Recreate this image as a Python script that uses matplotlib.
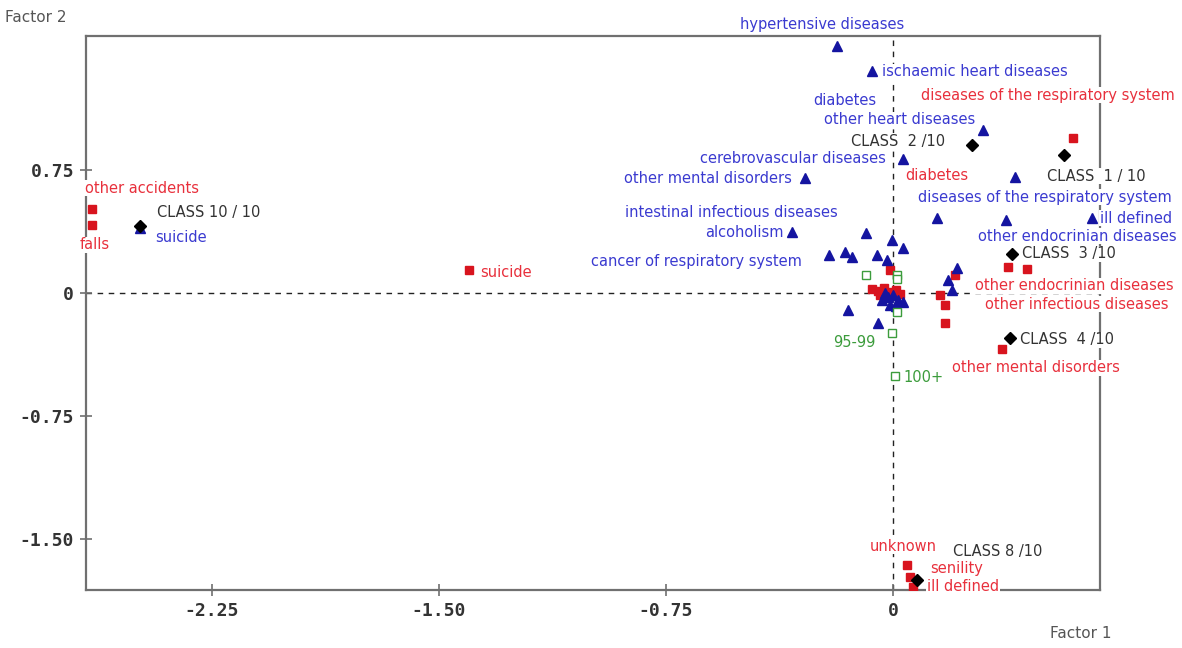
import matplotlib
matplotlib.use("Agg")
import matplotlib.pyplot as plt

# factor-plane coordinates of the categories (factor 1, factor 2)
class_names = ["CLASS 10 / 10", "CLASS  2 /10", "CLASS  1 / 10",
               "CLASS  3 /10", "CLASS  4 /10", "CLASS 8 /10"]
class_x = [-2.488, 0.261, 0.565, 0.393, 0.387, 0.079]
class_y = [0.409, 0.902, 0.841, 0.238, -0.274, -1.750]

active_names = ["other accidents", "falls", "suicide",
                "diseases of the respiratory system", "diabetes",
                "other endocrinian diseases", "other infectious diseases",
                "other mental disorders", "unknown", "senility", "ill defined",
                "", "", "", "", "", "", "", "", "", "", ""]
active_x = [-2.646, -2.646, -1.401, 0.595, 0.205, 0.380, 0.443, 0.360,
            0.046, 0.056, 0.066, 0.155, 0.172, 0.172, -0.010, -0.069,
            -0.050, -0.030, -0.010, 0.010, 0.023, -0.043]
active_y = [0.512, 0.415, 0.140, 0.945, 0.110, 0.159, 0.146, -0.341,
            -1.659, -1.732, -1.793, -0.012, -0.073, -0.183, 0.140, 0.024,
            0.012, 0.030, 0.006, 0.018, -0.006, -0.012]

cause_names = ["hypertensive diseases", "ischaemic heart diseases", "diabetes",
               "other heart diseases", "cerebrovascular diseases",
               "other mental disorders", "diseases of the respiratory system",
               "ill defined", "other endocrinian diseases",
               "intestinal infectious diseases", "alcoholism",
               "cancer of respiratory system", "suicide",
               "", "", "", "", "", "", "", "", "", "", "",
               "", "", "", "", "", "", "", ""]
cause_x = [-0.185, -0.069, 0.033, 0.297, 0.033, -0.291, 0.403, 0.657, 0.373,
           -0.089, -0.334, -0.211, -2.488,
           -0.003, -0.159, -0.135, -0.053, -0.020, 0.211, 0.182, 0.195,
           -0.149, -0.050, 0.145,
           -0.036, -0.017, 0.000, 0.017, 0.033, -0.010, -0.026, 0.010]
cause_y = [1.506, 1.354, 0.274, 0.994, 0.817, 0.701, 0.707, 0.457, 0.445,
           0.366, 0.372, 0.232, 0.397,
           0.323, 0.250, 0.220, 0.232, 0.201, 0.152, 0.079, 0.018,
           -0.104, -0.183, 0.457,
           -0.043, -0.024, -0.012, -0.043, -0.055, -0.073, 0.000, -0.079]

age_names = ["", "", "", "", "95-99", "100+"]
age_x = [-0.089, 0.013, 0.013, 0.013, -0.003, 0.007]
age_y = [0.110, 0.110, 0.085, -0.116, -0.244, -0.506]

x_ticks = [-2.25, -1.50, -0.75, 0]
x_tick_labels = ["-2.25", "-1.50", "-0.75", "0"]
y_ticks = [0.75, 0, -0.75, -1.50]
y_tick_labels = ["0.75", "0", "-0.75", "-1.50"]

# label placement: (dx, dy) in pixels from the marker, horizontal alignment
class_layout = {
    "CLASS 10 / 10": (17, 13, "left"), "CLASS  2 /10": (-27, 4, "right"),
    "CLASS  1 / 10": (-17, -21, "left"), "CLASS  3 /10": (10, 0, "left"),
    "CLASS  4 /10": (10, -2, "left"), "CLASS 8 /10": (36, 29, "left"),
}
active_layout = {
    "other accidents": (-7, 21, "left"), "falls": (-12, -20, "left"),
    "suicide": (11, -2, "left"),
    "diseases of the respiratory system": (102, 43, "right"),
    "diabetes": (-50, 99, "left"),
    "other endocrinian diseases": (-33, -19, "left"),
    "other infectious diseases": (-42, -35, "left"),
    "other mental disorders": (-50, -19, "left"),
    "unknown": (-37, 19, "left"), "senility": (20, 9, "left"),
    "ill defined": (14, 1, "left"),
}
cause_layout = {
    "hypertensive diseases": (-97, 22, "left"),
    "ischaemic heart diseases": (10, -1, "left"),
    "diabetes": (-27, 148, "right"),
    "other heart diseases": (-8, 10, "right"),
    "cerebrovascular diseases": (-17, 1, "right"),
    "other mental disorders": (-13, 0, "right"),
    "diseases of the respiratory system": (-97, -20, "left"),
    "ill defined": (8, 0, "left"),
    "other endocrinian diseases": (-28, -16, "left"),
    "intestinal infectious diseases": (-28, 20, "right"),
    "alcoholism": (-8, 0, "right"),
    "cancer of respiratory system": (-27, -7, "right"),
    "suicide": (15, -10, "left"),
}
age_layout = {"95-99": (-17, -9, "right"), "100+": (8, -2, "left")}

RED = "#d8141e"
RED_TXT = "#e8303c"
BLUE = "#1414a0"
BLUE_TXT = "#3a3ad0"
GREEN = "#3c9c3c"
GREY = "#707070"

fig = plt.figure(figsize=(11.82, 6.48), dpi=100)
ax = fig.add_axes([0.0728, 0.0895, 0.8579, 0.8549])
ax.set_xlim(-2.666, 0.684)
ax.set_ylim(-1.811, 1.567)

ax.axhline(0, color="#222222", lw=1, ls=(0, (4, 4)), zorder=1)
ax.axvline(0, color="#222222", lw=1, ls=(0, (4, 4)), zorder=1)

ax.plot(active_x, active_y, ls="none", marker="s", ms=6, color=RED,
        mec=RED, zorder=3)
ax.plot(cause_x, cause_y, ls="none", marker="^", ms=7.5, color=BLUE,
        mec=BLUE, zorder=4)
ax.plot(age_x, age_y, ls="none", marker="s", ms=5.5, mfc="white", mec=GREEN,
        mew=1, zorder=5)
ax.plot(class_x, class_y, ls="none", marker="D", ms=6, color="black",
        zorder=6)


def put_labels(names, xs, ys, layout, color):
    for name, x, y in zip(names, xs, ys):
        if not name:
            continue
        dx, dy, ha = layout[name]
        ax.annotate(name, (x, y), xytext=(dx, dy), textcoords="offset pixels",
                    ha=ha, va="center", fontsize=10.5, color=color,
                    annotation_clip=False, zorder=8,
                    bbox=dict(boxstyle="square,pad=0.05", fc="white",
                              ec="none"))


put_labels(class_names, class_x, class_y, class_layout, "#333333")
put_labels(active_names, active_x, active_y, active_layout, RED_TXT)
put_labels(cause_names, cause_x, cause_y, cause_layout, BLUE_TXT)
put_labels(age_names, age_x, age_y, age_layout, GREEN)

for side in ["left", "right", "top", "bottom"]:
    ax.spines[side].set_color(GREY)
    ax.spines[side].set_linewidth(1.6)
    ax.spines[side].set_zorder(2)

ax.set_xticks(x_ticks)
ax.set_xticklabels(x_tick_labels)
ax.set_yticks(y_ticks)
ax.set_yticklabels(y_tick_labels)
ax.tick_params(direction="inout", length=9, width=1.2, color=GREY,
               labelsize=13, labelcolor="#333333", pad=4)
for lab in ax.get_xticklabels() + ax.get_yticklabels():
    lab.set_fontfamily("DejaVu Sans Mono")
    lab.set_fontweight("bold")

fig.text(5 / 1182, 1 - 17 / 648, "Factor 2", fontsize=11, color="#555555",
         va="center", ha="left")
fig.text(1050 / 1182, 1 - 634 / 648, "Factor 1", fontsize=11, color="#555555",
         va="center", ha="left")

fig.savefig("out.png", dpi=100)
